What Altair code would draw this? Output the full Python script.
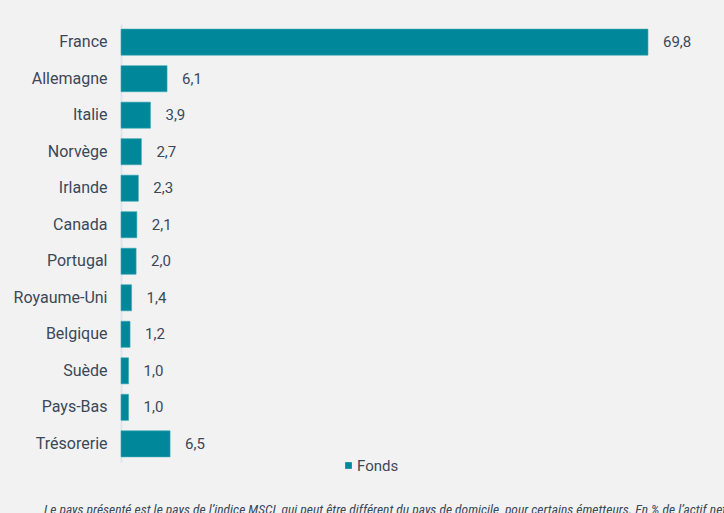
import altair as alt
import pandas as pd

countries = ["France", "Allemagne", "Italie", "Norvège", "Irlande", "Canada",
             "Portugal", "Royaume-Uni", "Belgique", "Suède", "Pays-Bas", "Trésorerie"]
values = [69.8, 6.1, 3.9, 2.7, 2.3, 2.1, 2.0, 1.4, 1.2, 1.0, 1.0, 6.5]
series = ["Fonds"] * len(countries)
footnote = ("Le pays présenté est le pays de l’indice MSCI, qui peut être différent du pays de domicile, "
            "pour certains émetteurs. En % de l’actif net")

df = pd.DataFrame({"pays": countries, "valeur": values, "serie": series})

TEXT = "#3b4859"
TEAL = "#00889a"

W = 560
x_scale = alt.Scale(domain=[0, W / 7.55], nice=False, zero=True)
y_enc = alt.Y("pays:N", sort=countries, title=None,
              scale=alt.Scale(paddingInner=0.286, paddingOuter=0.14),
              axis=alt.Axis(labelFont="Roboto", labelFontSize=16, labelColor=TEXT,
                            labelPadding=14, ticks=False, domainColor="#dfe5ea",
                            domainWidth=2, grid=False))

bars = alt.Chart(df).mark_bar(stroke="#3aa7b4", strokeWidth=0.6).encode(
    x=alt.X("valeur:Q", scale=x_scale, axis=None),
    y=y_enc,
    color=alt.Color("serie:N", scale=alt.Scale(range=[TEAL]), title=None,
                    legend=alt.Legend(orient="none", legendX=220, legendY=434,
                                      symbolType="square", symbolSize=45,
                                      labelFont="Roboto", labelFontSize=15,
                                      labelColor=TEXT, symbolStrokeWidth=0,
                                      labelOffset=1)),
)

labels = alt.Chart(df).transform_calculate(
    lab="replace(format(datum.valeur, '.1f'), '.', ',')"
).mark_text(align="left", baseline="middle", dx=15, font="Roboto", fontSize=15,
            color=TEXT).encode(
    x=alt.X("valeur:Q", scale=x_scale, axis=None),
    y=alt.Y("pays:N", sort=countries),
    text="lab:N",
)

chart = (bars + labels).properties(
    width=W, height=438,
    background="#f2f2f2",
    padding={"left": 121, "top": 24, "right": 43, "bottom": 51},
    autosize=alt.AutoSizeParams(type="none"),
    title=alt.TitleParams(footnote, orient="bottom", anchor="start", frame="group",
                          dx=-77, offset=29, font="Liberation Sans Narrow, Roboto Condensed, Roboto",
                          fontSize=13.5, fontStyle="italic", fontWeight="normal",
                          color=TEXT),
).configure_view(stroke=None)

chart.save("out.html", embed_options={"renderer": "svg", "actions": False})
